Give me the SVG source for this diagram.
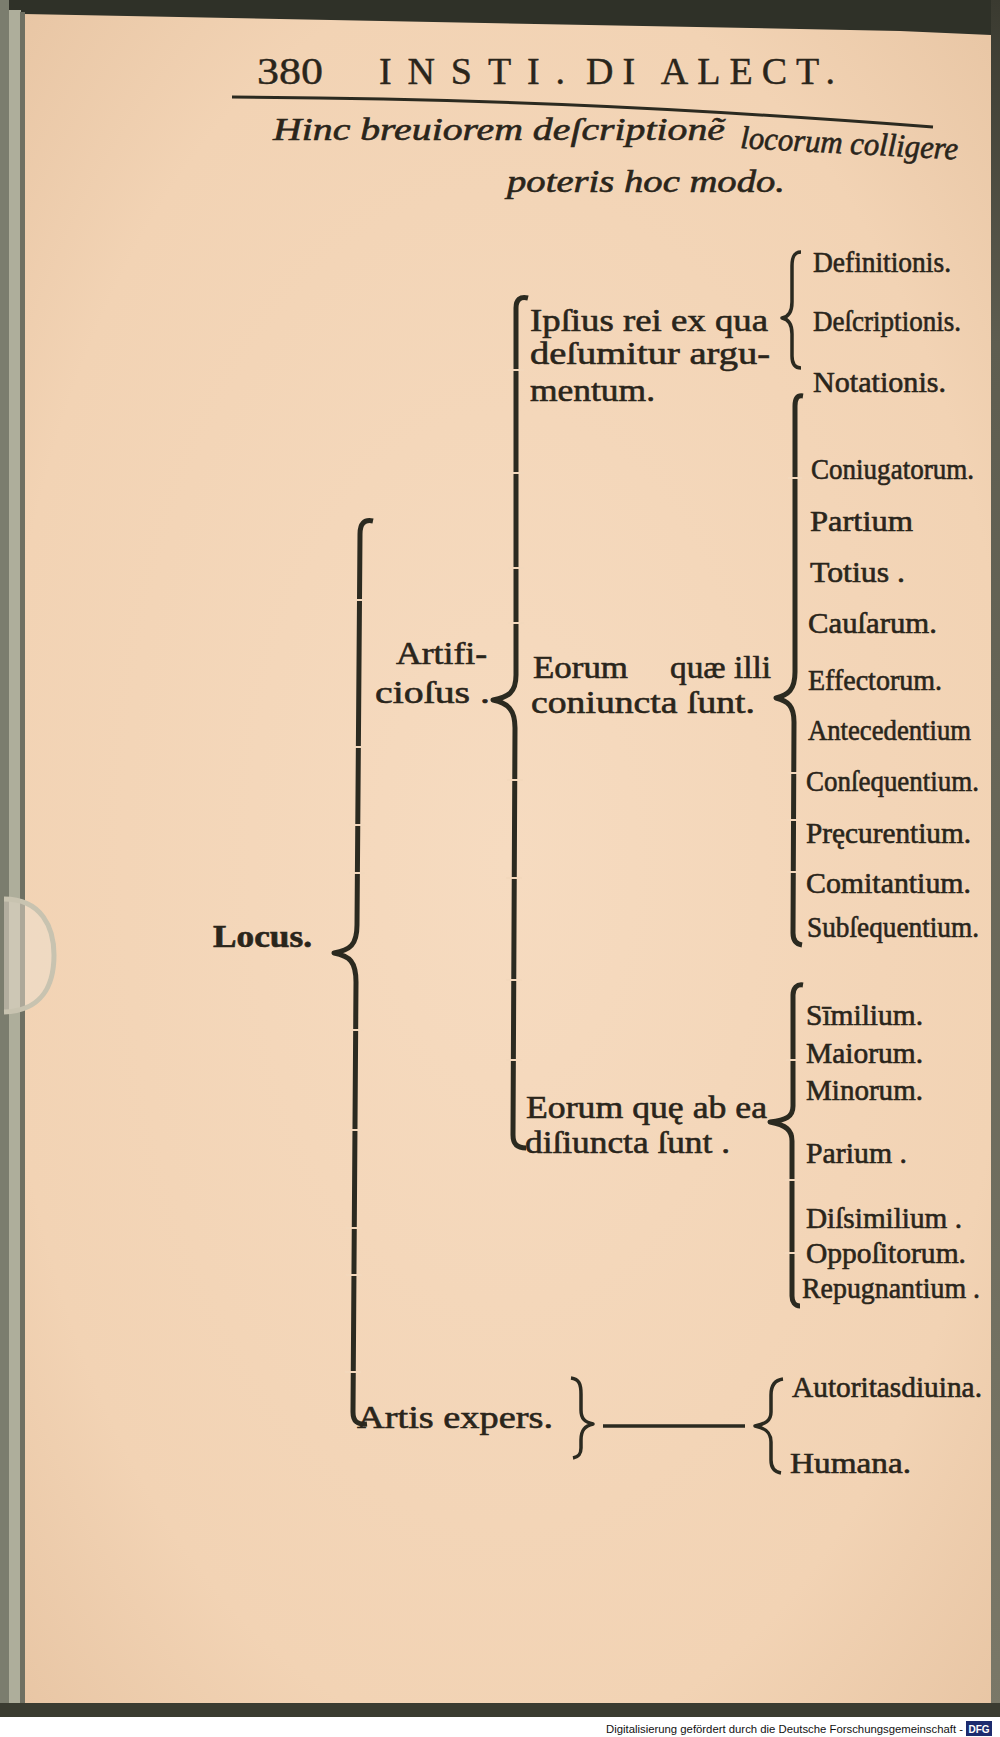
<svg xmlns="http://www.w3.org/2000/svg" width="1000" height="1737" viewBox="0 0 1000 1737">
<defs>
<radialGradient id="paper" cx="0.5" cy="0.5" r="0.75">
<stop offset="0" stop-color="#f6dbc0"/>
<stop offset="0.7" stop-color="#f2d3b4"/>
<stop offset="1" stop-color="#e6c3a1"/>
</radialGradient>
<linearGradient id="rightEdge" x1="0" y1="0" x2="0" y2="1">
<stop offset="0" stop-color="#3a3a30"/>
<stop offset="0.2" stop-color="#5e5d50"/>
<stop offset="1" stop-color="#7a7868"/>
</linearGradient>
<style>
.t{font-family:'Liberation Serif','DejaVu Serif',serif;font-size:32px;fill:#2a251b;stroke:#2a251b;stroke-width:0.6}
.r{font-size:30px}
.it{font-style:italic}
.hd{font-size:38px;stroke-width:0.4}
.br{stroke:#2b2a20;fill:none;stroke-width:5;stroke-linecap:butt;stroke-linejoin:round}
.thin{stroke-width:3.5}
.gap{stroke:#f3d8bc;stroke-width:2}
.foot{font-family:'Liberation Sans','DejaVu Sans',sans-serif;font-size:11px;fill:#111}
</style>
</defs>

<!-- background / page -->
<rect x="0" y="0" width="1000" height="1737" fill="#2f3128"/>
<path d="M24,14 L900,31 L991,35 L991,1703 L22,1703 Z" fill="url(#paper)"/>
<rect x="0" y="0" width="9" height="1717" fill="#7b7d6e"/>
<rect x="9" y="10" width="12" height="1700" fill="#aeae9b"/>
<rect x="20" y="12" width="5" height="1695" fill="#6f7062"/>
<rect x="991" y="0" width="9" height="1717" fill="url(#rightEdge)"/>
<rect x="0" y="1703" width="1000" height="14" fill="#3b3c31"/>
<rect x="0" y="1717" width="1000" height="20" fill="#ffffff"/>
<path d="M4,899 C42,899 54,928 54,955 C54,985 42,1011 4,1012" fill="#ece0cf" fill-opacity="0.5" stroke="#c8c3b0" stroke-width="5"/>

<!-- header -->
<g id="header">
<text class="t hd" x="257" y="84" font-size="34" textLength="66" lengthAdjust="spacingAndGlyphs">380</text>
<text class="t hd" x="379" y="84" textLength="186" lengthAdjust="spacing">INSTI.</text>
<text class="t hd" x="586" y="84" textLength="249" lengthAdjust="spacing">DI ALECT.</text>
<path d="M232,97 C450,98 660,106 933,127" fill="none" stroke="#2b2a20" stroke-width="3"/>
</g>

<g id="intro">
<text class="t it" x="273" y="140" font-size="36" textLength="452" lengthAdjust="spacingAndGlyphs">Hinc breuiorem deſcriptionẽ</text>
<text class="t it" x="740" y="148" font-size="36" textLength="218" lengthAdjust="spacingAndGlyphs" transform="rotate(3 740 148)">locorum colligere</text>
<text class="t it" x="507" y="192" font-size="38" textLength="278" lengthAdjust="spacingAndGlyphs">poteris hoc modo.</text>
</g>

<!-- connectors -->
<g id="connectors">
<path class="br" d="M373,521 C364,519 360,524 360,534 L357,925 C357,945 350,950 334,953 C350,956 356,962 356,982 L353,1412 C353,1421 357,1425 367,1424"/>
<path class="br" d="M528,298 C520,296 516,300 516,308 L516,675 C516,693 508,697 493,700 C508,703 515,710 515,728 L513,1135 C513,1144 517,1148 526,1148"/>
<path class="br thin" d="M801,252 C794,252 792,257 792,266 L792,302 C792,313 788,317 782,318 C788,319 792,324 792,334 L792,356 C792,364 795,368 801,368"/>
<path class="br" d="M803,396 C797,395 795,399 795,406 L795,672 C795,690 788,695 776,698 C788,701 794,706 794,722 L793,933 C793,940 796,944 802,945"/>
<path class="br" d="M803,985 C797,984 793,988 793,995 L793,1106 C793,1117 786,1120 770,1122 C786,1125 792,1130 792,1141 L792,1296 C792,1302 795,1306 800,1306"/>
<path class="br thin" d="M571,1378 C579,1379 581,1384 581,1394 L581,1410 C581,1419 585,1422 593,1424 C585,1426 581,1430 581,1440 L581,1448 C581,1455 578,1457 573,1458"/>
<line class="br thin" x1="603" y1="1426" x2="745" y2="1426"/>
<path class="br thin" d="M783,1379 C775,1380 771,1385 771,1395 L771,1412 C771,1421 765,1424 755,1426 C765,1428 771,1432 771,1442 L771,1460 C771,1468 775,1472 781,1473"/>
<g id="rule-breaks">
<line class="gap" x1="350" y1="600" x2="366" y2="600"/>
<line class="gap" x1="350" y1="747" x2="366" y2="747"/>
<line class="gap" x1="349" y1="825" x2="365" y2="825"/>
<line class="gap" x1="349" y1="873" x2="365" y2="873"/>
<line class="gap" x1="348" y1="1030" x2="364" y2="1030"/>
<line class="gap" x1="346" y1="1130" x2="362" y2="1130"/>
<line class="gap" x1="346" y1="1228" x2="362" y2="1228"/>
<line class="gap" x1="346" y1="1275" x2="362" y2="1275"/>
<line class="gap" x1="345" y1="1372" x2="361" y2="1372"/>
<line class="gap" x1="508" y1="370" x2="524" y2="370"/>
<line class="gap" x1="508" y1="473" x2="524" y2="473"/>
<line class="gap" x1="508" y1="568" x2="524" y2="568"/>
<line class="gap" x1="508" y1="623" x2="524" y2="623"/>
<line class="gap" x1="507" y1="780" x2="523" y2="780"/>
<line class="gap" x1="506" y1="878" x2="522" y2="878"/>
<line class="gap" x1="506" y1="980" x2="522" y2="980"/>
<line class="gap" x1="506" y1="1060" x2="522" y2="1060"/>
<line class="gap" x1="788" y1="478" x2="802" y2="478"/>
<line class="gap" x1="788" y1="773" x2="802" y2="773"/>
<line class="gap" x1="787" y1="820" x2="801" y2="820"/>
<line class="gap" x1="787" y1="872" x2="801" y2="872"/>
<line class="gap" x1="786" y1="1060" x2="800" y2="1060"/>
<line class="gap" x1="785" y1="1180" x2="799" y2="1180"/>
<line class="gap" x1="785" y1="1253" x2="799" y2="1253"/>
</g>
</g>

<!-- nodes -->
<g id="node-locus"><text class="t" x="213" y="947" font-size="33" font-weight="bold" textLength="99" lengthAdjust="spacingAndGlyphs">Locus.</text></g>
<g id="node-artificiosus">
<text class="t" x="396" y="664" textLength="91" lengthAdjust="spacingAndGlyphs">Artifi-</text>
<text class="t" x="375" y="703" textLength="115" lengthAdjust="spacingAndGlyphs">cioſus .</text>
</g>
<g id="node-artis-expers"><text class="t" x="357" y="1428" textLength="196" lengthAdjust="spacingAndGlyphs">Artis expers.</text></g>

<g id="node-ipsius">
<text class="t" x="530" y="331" font-size="31" textLength="238" lengthAdjust="spacingAndGlyphs">Ipſius rei ex qua</text>
<text class="t" x="530" y="364" font-size="31" textLength="240" lengthAdjust="spacingAndGlyphs">deſumitur argu-</text>
<text class="t" x="530" y="401" font-size="31" textLength="125" lengthAdjust="spacingAndGlyphs">mentum.</text>
</g>
<g id="node-coniuncta">
<text class="t" y="678"><tspan x="533" textLength="95" lengthAdjust="spacingAndGlyphs">Eorum</tspan><tspan x="670" textLength="101" lengthAdjust="spacingAndGlyphs">quæ illi</tspan></text>
<text class="t" x="531" y="713" textLength="224" lengthAdjust="spacingAndGlyphs">coniuncta ſunt.</text>
</g>
<g id="node-disiuncta">
<text class="t" x="526" y="1118" textLength="241" lengthAdjust="spacingAndGlyphs">Eorum quę ab ea</text>
<text class="t" x="525" y="1153" textLength="205" lengthAdjust="spacingAndGlyphs">diſiuncta ſunt .</text>
</g>

<g id="node-definitionis"><text class="t r" x="813" y="272" textLength="138" lengthAdjust="spacingAndGlyphs">Definitionis.</text></g>
<g id="node-descriptionis"><text class="t r" x="813" y="331" textLength="148" lengthAdjust="spacingAndGlyphs">Deſcriptionis.</text></g>
<g id="node-notationis"><text class="t r" x="813" y="392" textLength="133" lengthAdjust="spacingAndGlyphs">Notationis.</text></g>

<g id="node-coniugatorum"><text class="t r" x="811" y="479" textLength="163" lengthAdjust="spacingAndGlyphs">Coniugatorum.</text></g>
<g id="node-partium"><text class="t r" x="810" y="531" textLength="103" lengthAdjust="spacingAndGlyphs">Partium</text></g>
<g id="node-totius"><text class="t r" x="810" y="582" textLength="95" lengthAdjust="spacingAndGlyphs">Totius .</text></g>
<g id="node-causarum"><text class="t r" x="808" y="633" textLength="129" lengthAdjust="spacingAndGlyphs">Cauſarum.</text></g>
<g id="node-effectorum"><text class="t r" x="808" y="690" textLength="134" lengthAdjust="spacingAndGlyphs">Effectorum.</text></g>
<g id="node-antecedentium"><text class="t r" x="808" y="740" textLength="163" lengthAdjust="spacingAndGlyphs">Antecedentium</text></g>
<g id="node-consequentium"><text class="t r" x="806" y="791" font-size="29" textLength="173" lengthAdjust="spacingAndGlyphs">Conſequentium.</text></g>
<g id="node-precurentium"><text class="t r" x="806" y="843" textLength="165" lengthAdjust="spacingAndGlyphs">Pręcurentium.</text></g>
<g id="node-comitantium"><text class="t r" x="806" y="893" textLength="165" lengthAdjust="spacingAndGlyphs">Comitantium.</text></g>
<g id="node-subsequentium"><text class="t r" x="807" y="937" font-size="29" textLength="172" lengthAdjust="spacingAndGlyphs">Subſequentium.</text></g>

<g id="node-similium"><text class="t r" x="806" y="1025" textLength="117" lengthAdjust="spacingAndGlyphs">Sīmilium.</text></g>
<g id="node-maiorum"><text class="t r" x="806" y="1063" textLength="117" lengthAdjust="spacingAndGlyphs">Maiorum.</text></g>
<g id="node-minorum"><text class="t r" x="806" y="1100" textLength="117" lengthAdjust="spacingAndGlyphs">Minorum.</text></g>
<g id="node-parium"><text class="t r" x="806" y="1163" textLength="101" lengthAdjust="spacingAndGlyphs">Parium .</text></g>
<g id="node-dissimilium"><text class="t r" x="806" y="1228" textLength="156" lengthAdjust="spacingAndGlyphs">Diſsimilium .</text></g>
<g id="node-oppositorum"><text class="t r" x="806" y="1263" textLength="160" lengthAdjust="spacingAndGlyphs">Oppoſitorum.</text></g>
<g id="node-repugnantium"><text class="t r" x="802" y="1298" textLength="178" lengthAdjust="spacingAndGlyphs">Repugnantium .</text></g>

<g id="node-autoritas"><text class="t r" x="792" y="1397" textLength="190" lengthAdjust="spacingAndGlyphs">Autoritasdiuina.</text></g>
<g id="node-humana"><text class="t r" x="790" y="1473" textLength="121" lengthAdjust="spacingAndGlyphs">Humana.</text></g>

<!-- footer -->
<g id="footer">
<text class="foot" x="606" y="1733" textLength="357" lengthAdjust="spacingAndGlyphs">Digitalisierung gefördert durch die Deutsche Forschungsgemeinschaft -</text>
<rect x="966" y="1721" width="26" height="15" fill="#1c2b6e"/>
<text x="979" y="1733" text-anchor="middle" font-family="'Liberation Sans',sans-serif" font-size="10" font-weight="bold" fill="#ffffff">DFG</text>
</g>
</svg>
